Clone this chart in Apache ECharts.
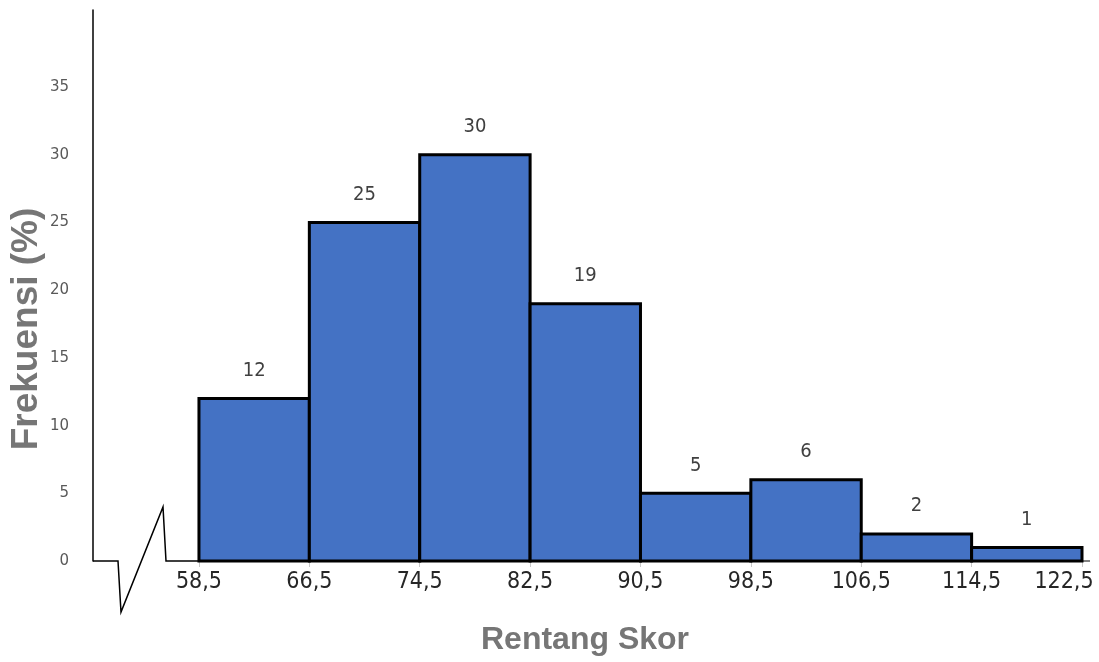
<!DOCTYPE html>
<html>
<head>
<meta charset="utf-8">
<script src="https://cdn.jsdelivr.net/npm/echarts@6/dist/echarts.min.js"></script>
<style>
  html, body { margin: 0; padding: 0; background: #fff; }
  #chart { width: 1099px; height: 662px; }
</style>
</head>
<body>
<div id="chart"></div>
<script>
// Class boundaries of the score ranges and the frequency (%) in each class
const binEdges = [58.5, 66.5, 74.5, 82.5, 90.5, 98.5, 106.5, 114.5, 122.5];
const frequencies = [12, 25, 30, 19, 5, 6, 2, 1];
const yTickValues = [0, 5, 10, 15, 20, 25, 30, 35];
const xTickLabels = ['58,5', '66,5', '74,5', '82,5', '90,5', '98,5', '106,5', '114,5', '122,5'];

const narrowFont = "'Liberation Sans Narrow', 'DejaVu Sans Condensed', 'Liberation Sans', sans-serif";
const xLabelStyle = { color: '#262626', fontFamily: narrowFont, fontSize: 23 };

const bins = frequencies.map((f, i) => [binEdges[i], binEdges[i + 1], f]);

const chart = echarts.init(document.getElementById('chart'));

const X_MIN = 50.82;
const X_MAX = 123.08;

chart.setOption({
  animation: false,
  backgroundColor: '#ffffff',
  grid: { left: 93, right: 9, top: 10, bottom: 101, containLabel: false, outerBoundsMode: 'none' },
  xAxis: {
    type: 'value',
    min: X_MIN,
    max: X_MAX,
    axisLine: { show: false },
    splitLine: { show: false },
    axisTick: {
      show: true,
      customValues: binEdges,
      length: 6,
      lineStyle: { color: '#c8c8c8', width: 1 }
    },
    axisLabel: Object.assign({
      customValues: binEdges,
      margin: 10,
      hideOverlap: false,
      // the last label is nudged left so it stays inside the canvas
      formatter: v => {
        const i = binEdges.indexOf(v);
        return i === binEdges.length - 1 ? '{last|' + xTickLabels[i] + '}' : xTickLabels[i];
      },
      rich: {
        last: Object.assign({ padding: [0, 36, 0, 0] }, xLabelStyle)
      }
    }, xLabelStyle)
  },
  yAxis: {
    type: 'value',
    min: 0,
    max: 40.7,
    interval: 5,
    axisLine: { show: true, lineStyle: { color: '#000', width: 1.5 } },
    axisTick: { show: false },
    splitLine: { show: false },
    axisLabel: {
      customValues: yTickValues,
      margin: 24,
      color: '#595959',
      fontFamily: "'DejaVu Sans', sans-serif",
      fontSize: 15
    }
  },
  series: [{
    type: 'custom',
    data: bins,
    encode: { x: [0, 1], y: 2 },
    z: 3,
    renderItem: function (params, api) {
      const topLeft = api.coord([api.value(0), api.value(2)]);
      const bottomRight = api.coord([api.value(1), 0]);
      return {
        type: 'group',
        children: [
          {
            type: 'rect',
            shape: {
              x: topLeft[0],
              y: topLeft[1],
              width: bottomRight[0] - topLeft[0],
              height: bottomRight[1] - topLeft[1]
            },
            style: { fill: '#4472C4', stroke: '#000000', lineWidth: 3 }
          },
          {
            type: 'text',
            style: {
              text: String(api.value(2)),
              x: (topLeft[0] + bottomRight[0]) / 2,
              y: topLeft[1] - 28,
              align: 'center',
              verticalAlign: 'middle',
              font: '20px ' + narrowFont,
              fill: '#404040'
            }
          }
        ]
      };
    }
  }]
});

// Horizontal axis with a break symbol between the origin and the first class
function drawAxisBreak() {
  const origin = chart.convertToPixel({ gridIndex: 0 }, [X_MIN, 0]);
  const end = chart.convertToPixel({ gridIndex: 0 }, [X_MAX, 0]);
  const firstEdge = chart.convertToPixel({ gridIndex: 0 }, [binEdges[0], 0]);
  const ox = origin[0], oy = origin[1];
  chart.setOption({
    graphic: [
      {
        type: 'polyline',
        z: 1,
        shape: {
          points: [
            [ox, oy], [ox + 25, oy], [ox + 28, oy + 51],
            [ox + 70, oy - 54], [ox + 73, oy], [firstEdge[0], oy]
          ]
        },
        style: { stroke: '#000', lineWidth: 1.5, fill: null }
      },
      {
        type: 'line',
        z: 1,
        shape: { x1: firstEdge[0], y1: oy, x2: end[0], y2: oy },
        style: { stroke: '#595959', lineWidth: 1.5 }
      },
      {
        type: 'text',
        style: {
          text: 'Rentang Skor',
          x: 585,
          y: 640,
          align: 'center',
          verticalAlign: 'middle',
          font: "bold 32px 'Liberation Sans', Arial, sans-serif",
          fill: '#767676'
        }
      },
      {
        type: 'text',
        x: 27,
        y: 329,
        rotation: Math.PI / 2,
        style: {
          text: 'Frekuensi (%)',
          x: 0,
          y: 0,
          align: 'center',
          verticalAlign: 'middle',
          font: "bold 37px 'Liberation Sans', Arial, sans-serif",
          fill: '#767676'
        }
      }
    ]
  });
}
drawAxisBreak();
</script>
</body>
</html>
